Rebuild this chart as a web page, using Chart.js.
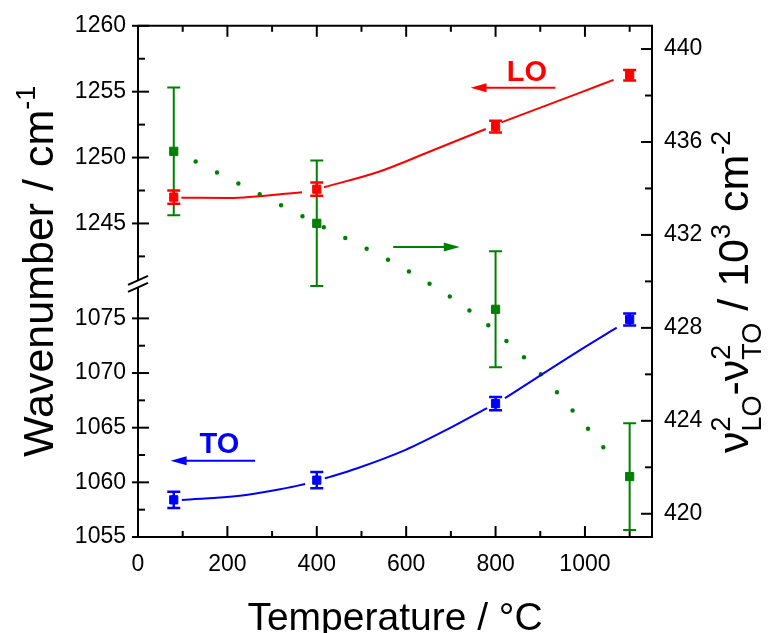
<!DOCTYPE html>
<html>
<head>
<meta charset="utf-8">
<script src="https://cdn.jsdelivr.net/npm/chart.js@4.4.0/dist/chart.umd.min.js"></script>
<style>
  html, body { margin: 0; padding: 0; background: #fff; }
</style>
</head>
<body>
<canvas id="chart" width="770" height="633"></canvas>
<script>
// measured points
const temps = [80, 400, 800, 1100];
const loValues = [1247.0, 1247.6, 1252.35, 1256.25];
const loErrors = [0.5, 0.5, 0.45, 0.4];
const toValues = [1058.4, 1060.2, 1067.2, 1074.9];
const toErrors = [0.75, 0.75, 0.6, 0.55];
const splitValues = [435.6, 432.5, 428.8, 421.6];
const splitErrors = [2.75, 2.7, 2.5, 2.3];

// fitted curves (null = gap round a marker)
const loFitT = [97, 204, 367, 400, 416, 537, 649, 778, 800, 813, 982, 1064];
const loFitV = [1246.95, 1246.93, 1247.37, null, 1247.75, 1248.9, 1250.4, 1252.17, null, 1252.67, 1254.83, 1255.9];
const toFitT = [98, 228, 318, 374, 400, 418, 489, 600, 690, 781, 800, 821, 989, 1071];
const toFitV = [1058.38, 1058.77, 1059.36, 1059.84, null, 1060.36, 1061.27, 1063.0, 1064.8, 1066.8, null, 1067.7, 1072.1, 1074.15];
const splitFitT = [129, 271, 413, 604, 747, 890, 1014, 1053];
const splitFitV = [435.16, 433.76, 432.36, 430.45, 428.67, 426.23, 423.49, 422.58];

// axes
const xTicks = [0, 200, 400, 600, 800, 1000];
const xMinor = [100, 300, 500, 700, 900, 1100];
const upTicks = [1245, 1250, 1255, 1260];
const upMinor = [1242.5, 1247.5, 1252.5, 1257.5];
const lowTicks = [1055, 1060, 1065, 1070, 1075];
const lowMinor = [1057.5, 1062.5, 1067.5, 1072.5];
const rightTicks = [420, 424, 428, 432, 436, 440];
const rightMinor = [422, 426, 430, 434, 438];

const RED = '#ff0000', BLUE = '#0000ff', GREEN = '#008000';
const fontFamily = '"Liberation Sans", Arial, Helvetica, sans-serif';

const pts = (xs, ys) => xs.map((x, i) => ({ x: x, y: ys[i] }));
const setTicks = values => scale => { scale.ticks = values.map(v => ({ value: v })); };
const tickFont = { family: fontFamily, size: 23 };

function yScale(pos, min, max, ticks, extra) {
  return Object.assign({
    type: 'linear', position: pos, min: min, max: max,
    afterBuildTicks: setTicks(ticks),
    afterFit: s => { s.width = pos === 'left' ? 138 : 118; },
    grid: { display: false, drawTicks: false },
    border: { display: false },
    ticks: { font: tickFont, color: '#000', padding: 12, autoSkip: false, callback: v => String(v) }
  }, extra || {});
}

function errorBars(ctx, xs, ys, errs, sx, sy, color, width) {
  ctx.strokeStyle = color;
  ctx.lineWidth = width;
  xs.forEach((t, i) => {
    const x = sx.getPixelForValue(t);
    const y1 = sy.getPixelForValue(ys[i] + errs[i]);
    const y2 = sy.getPixelForValue(ys[i] - errs[i]);
    ctx.beginPath();
    ctx.moveTo(x, y1); ctx.lineTo(x, y2);
    ctx.moveTo(x - 6.5, y1); ctx.lineTo(x + 6.5, y1);
    ctx.moveTo(x - 6.5, y2); ctx.lineTo(x + 6.5, y2);
    ctx.stroke();
  });
}

function arrow(ctx, x1, x2, y, color) {
  const dir = Math.sign(x2 - x1);
  ctx.strokeStyle = color; ctx.fillStyle = color; ctx.lineWidth = 2;
  ctx.beginPath(); ctx.moveTo(x1, y); ctx.lineTo(x2 - dir * 12, y); ctx.stroke();
  ctx.beginPath();
  ctx.moveTo(x2, y);
  ctx.lineTo(x2 - dir * 16, y - 4.5);
  ctx.lineTo(x2 - dir * 16, y + 4.5);
  ctx.closePath(); ctx.fill();
}

// text with super/subscripts, drawn along +x from the current origin
function richText(ctx, parts, main, small) {
  let pos = 0;
  parts.forEach(p => {
    if (p.text !== undefined) {
      ctx.font = main + 'px ' + fontFamily;
      ctx.fillText(p.text, pos, 0);
      pos += ctx.measureText(p.text).width;
    } else {
      ctx.font = small + 'px ' + fontFamily;
      let w = 0;
      if (p.sup) { ctx.fillText(p.sup, pos, -main * 0.42); w = Math.max(w, ctx.measureText(p.sup).width); }
      if (p.sub) { ctx.fillText(p.sub, pos, main * 0.3); w = Math.max(w, ctx.measureText(p.sub).width); }
      pos += w;
    }
  });
}

const decor = {
  id: 'decor',
  beforeDatasetsDraw(chart) {
    const ctx = chart.ctx, s = chart.scales;
    ctx.save();
    errorBars(ctx, temps, splitValues, splitErrors, s.x, s.yR, GREEN, 2);
    errorBars(ctx, temps, toValues, toErrors, s.x, s.yLow, BLUE, 2.5);
    errorBars(ctx, temps, loValues, loErrors, s.x, s.yUp, RED, 2.5);
    ctx.restore();
  },
  afterDraw(chart) {
    const ctx = chart.ctx, s = chart.scales, a = chart.chartArea;
    ctx.save();
    ctx.strokeStyle = '#000';
    ctx.lineWidth = 2;
    ctx.lineCap = 'butt';

    // frame
    ctx.beginPath();
    ctx.moveTo(a.left, a.top); ctx.lineTo(a.right, a.top);
    ctx.lineTo(a.right, a.bottom); ctx.lineTo(a.left, a.bottom);
    ctx.lineTo(a.left, a.top);
    ctx.stroke();

    const vTick = (x, y, out, inn) => { ctx.beginPath(); ctx.moveTo(x - out, y); ctx.lineTo(x + inn, y); ctx.stroke(); };
    const hTick = (x, y, len) => { ctx.beginPath(); ctx.moveTo(x, y); ctx.lineTo(x, y + len); ctx.stroke(); };

    xTicks.forEach(v => { const x = s.x.getPixelForValue(v); hTick(x, a.bottom, -11); hTick(x, a.top, 11); });
    xMinor.forEach(v => { const x = s.x.getPixelForValue(v); hTick(x, a.bottom, -6); hTick(x, a.top, 6); });
    upTicks.forEach(v => vTick(a.left, s.yUp.getPixelForValue(v), 6, 11));
    upMinor.forEach(v => vTick(a.left, s.yUp.getPixelForValue(v), 0, 7));
    lowTicks.forEach(v => vTick(a.left, s.yLow.getPixelForValue(v), 6, 11));
    lowMinor.forEach(v => vTick(a.left, s.yLow.getPixelForValue(v), 0, 7));
    rightTicks.forEach(v => vTick(a.right, s.yR.getPixelForValue(v), 11, 0));
    rightMinor.forEach(v => vTick(a.right, s.yR.getPixelForValue(v), 7, 0));

    // axis break
    const yb = s.yUp.bottom;
    ctx.fillStyle = '#fff';
    ctx.beginPath();
    ctx.moveTo(a.left - 10, yb - 3 + 4.5); ctx.lineTo(a.left + 10, yb - 3 - 4.5);
    ctx.lineTo(a.left + 10, yb + 4 - 4.5); ctx.lineTo(a.left - 10, yb + 4 + 4.5);
    ctx.closePath(); ctx.fill();
    ctx.beginPath();
    ctx.moveTo(a.left - 10, yb - 3 + 4.5); ctx.lineTo(a.left + 10, yb - 3 - 4.5);
    ctx.moveTo(a.left - 10, yb + 4 + 4.5); ctx.lineTo(a.left + 10, yb + 4 - 4.5);
    ctx.stroke();

    // annotations
    const bold = 'bold 29px ' + fontFamily;
    ctx.font = bold; ctx.textAlign = 'center'; ctx.textBaseline = 'alphabetic';
    ctx.fillStyle = RED;
    ctx.fillText('LO', s.x.getPixelForValue(870), s.yUp.getPixelForValue(1255.83));
    arrow(ctx, s.x.getPixelForValue(934), s.x.getPixelForValue(744), s.yUp.getPixelForValue(1255.3), RED);
    arrow(ctx, s.x.getPixelForValue(571), s.x.getPixelForValue(720), s.yR.getPixelForValue(431.48), GREEN);
    ctx.font = bold; ctx.fillStyle = BLUE;
    ctx.fillText('TO', s.x.getPixelForValue(182), s.yLow.getPixelForValue(1062.64));
    arrow(ctx, s.x.getPixelForValue(262), s.x.getPixelForValue(73), s.yLow.getPixelForValue(1061.97), BLUE);

    // axis titles
    ctx.fillStyle = '#000';
    ctx.textAlign = 'center';
    ctx.font = '39px ' + fontFamily;
    ctx.fillText('Temperature / \u00B0C', (a.left + a.right) / 2, 630);

    ctx.textAlign = 'left';
    ctx.save();
    ctx.translate(53, 457);
    ctx.rotate(-Math.PI / 2);
    richText(ctx, [{ text: 'Wavenumber / cm' }, { sup: '-1' }], 43, 27);
    ctx.restore();

    ctx.save();
    ctx.translate(748, 453);
    ctx.rotate(-Math.PI / 2);
    richText(ctx, [
      { text: '\u03BD' }, { sup: '2', sub: 'LO' }, { text: '-' },
      { text: '\u03BD' }, { sup: '2', sub: 'TO' }, { text: ' / 10' },
      { sup: '3' }, { text: ' cm' }, { sup: '-2' }
    ], 43, 27);
    ctx.restore();

    ctx.restore();
  }
};

const markerStyle = color => ({
  showLine: false, pointStyle: 'rect', pointRadius: 5.8, pointHoverRadius: 5.8,
  backgroundColor: color, borderColor: color, borderWidth: 1
});
const fitStyle = color => ({
  showLine: true, pointRadius: 0, pointHoverRadius: 0, borderColor: color, borderWidth: 2,
  cubicInterpolationMode: 'monotone', spanGaps: false, fill: false
});

new Chart(document.getElementById('chart'), {
  type: 'line',
  data: {
    datasets: [
      Object.assign({ label: 'LO', data: pts(temps, loValues), yAxisID: 'yUp' }, markerStyle(RED)),
      Object.assign({ label: 'TO', data: pts(temps, toValues), yAxisID: 'yLow' }, markerStyle(BLUE)),
      Object.assign({ label: 'LO fit', data: pts(loFitT, loFitV), yAxisID: 'yUp' }, fitStyle(RED)),
      Object.assign({ label: 'TO fit', data: pts(toFitT, toFitV), yAxisID: 'yLow' }, fitStyle(BLUE)),
      Object.assign({ label: 'LO-TO', data: pts(temps, splitValues), yAxisID: 'yR' }, markerStyle(GREEN)),
      Object.assign({ label: 'LO-TO fit', data: pts(splitFitT, splitFitV), yAxisID: 'yR' }, fitStyle(GREEN),
        { borderWidth: 4.5, borderDash: [0, 24], borderCapStyle: 'round' })
    ]
  },
  options: {
    responsive: false,
    animation: false,
    devicePixelRatio: 1,
    layout: { padding: { top: 25, left: 0, right: 0, bottom: 0 } },
    plugins: { legend: { display: false }, tooltip: { enabled: false } },
    scales: {
      x: {
        type: 'linear', position: 'bottom', min: 0, max: 1150,
        afterBuildTicks: setTicks(xTicks),
        afterFit: s => { s.height = 96; },
        grid: { display: false, drawTicks: false },
        border: { display: false },
        ticks: { font: tickFont, color: '#000', padding: 14, maxRotation: 0, autoSkip: false, callback: v => String(v) }
      },
      yLow: yScale('left', 1055, 1078.2, lowTicks, { stack: 'left', stackWeight: 254 }),
      yUp: yScale('left', 1240.45, 1260, upTicks, { stack: 'left', stackWeight: 258 }),
      yR: yScale('right', 419, 441, rightTicks)
    }
  },
  plugins: [decor]
});
</script>
</body>
</html>
